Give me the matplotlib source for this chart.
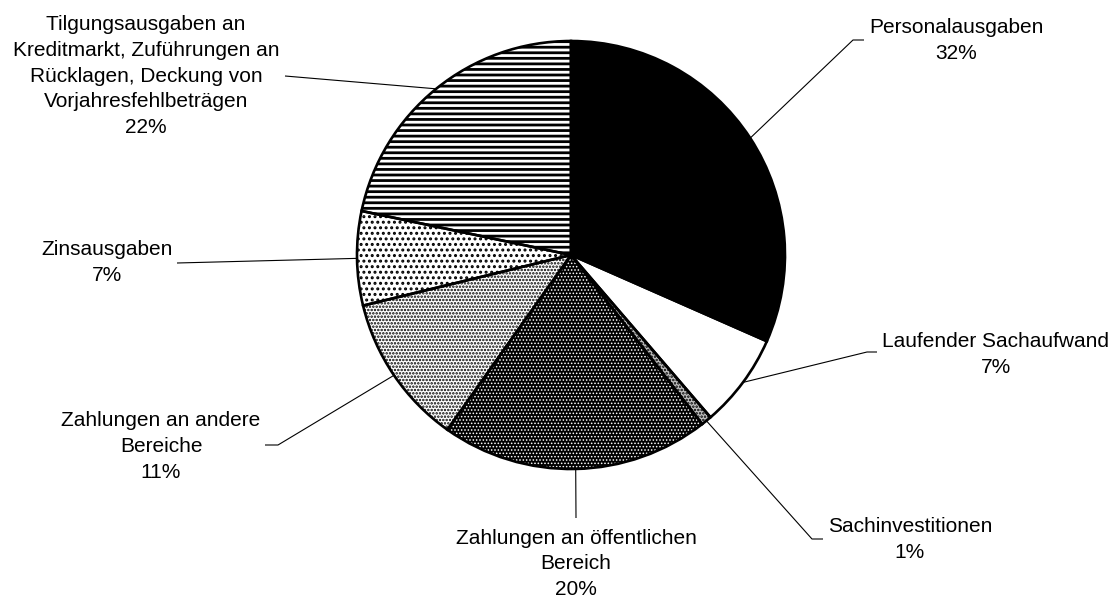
#!/usr/bin/env python3
"""Ausgabenstruktur als Kreisdiagramm (schwarz/weiss mit Schraffuren)"""

import matplotlib
matplotlib.use('Agg')
import matplotlib.pyplot as plt
import numpy as np

# data
categories = [
    'Personalausgaben',
    'Laufender Sachaufwand',
    'Sachinvestitionen',
    'Zahlungen an öffentlichen\nBereich',
    'Zahlungen an andere\nBereiche',
    'Zinsausgaben',
    'Tilgungsausgaben an\nKreditmarkt, Zuführungen an\nRücklagen, Deckung von\nVorjahresfehlbeträgen',
]
shares = [31.6, 7.1, 0.8, 20.3, 11.4, 7.1, 21.7]

# styles per slice: face, hatch, hatch colour, hatch line width
faces = ['black', 'white', '#c0c0c0', 'black', 'white', 'white', 'white']
hatches = [None, None, '.....', '.....', '.....', '...', '---']
hatch_cols = ['black', 'black', 'black', 'white', 'black', 'black', 'black']
hatch_lws = [1.0, 1.0, 1.2, 0.7, 1.2, 1.4, 2.0]

# layout in pixels (y from top): label last-baseline pos, leader elbow/end
W, H = 1117, 599
CX, CY, R = 571, 255, 214
label_pos = [(956, 59), (996, 373), (910, 558), (576, 595),
             (161, 478), (107, 281), (146, 133)]
leader_pts = [
    [(853, 40), (864, 40)],
    [(867, 352), (877, 352)],
    [(812, 539), (823, 539)],
    [(576, 518)],
    [(278, 445), (265, 445)],
    [(177, 263)],
    [(285, 76)],
]

plt.rcParams['font.family'] = ['Liberation Sans', 'DejaVu Sans']
plt.rcParams['hatch.linewidth'] = 1.4

fig = plt.figure(figsize=(W / 100, H / 100), dpi=100)
ax = fig.add_axes([0, 0, 1, 1])

# fills + hatches
wedges, _ = ax.pie(shares, startangle=90, counterclock=False,
                   center=(CX, H - CY), radius=R, colors=faces,
                   wedgeprops=dict(linewidth=0))
for w, h, hc, hl in zip(wedges, hatches, hatch_cols, hatch_lws):
  w.set_edgecolor(hc)
  w.set_linewidth(0)
  if h:
    w.set_hatch(h)
    if hasattr(w, 'set_hatch_linewidth'):
      w.set_hatch_linewidth(hl)

# outlines on top
ax.pie(shares, startangle=90, counterclock=False, center=(CX, H - CY),
       radius=R, wedgeprops=dict(fill=False, edgecolor='black',
                                 linewidth=1.9))

ax.set_xlim(0, W)
ax.set_ylim(0, H)
ax.set_aspect('auto')
ax.axis('off')

for w, cat, share, (tx, ty), pts in zip(wedges, categories, shares,
                                         label_pos, leader_pts):
  mid = np.deg2rad((w.theta1 + w.theta2) / 2)
  xs = [CX + R * np.cos(mid)] + [p[0] for p in pts]
  ys = [H - CY + R * np.sin(mid)] + [H - p[1] for p in pts]
  ax.plot(xs, ys, color='black', lw=0.8, solid_capstyle='butt')
  ax.text(tx, H - ty, '%s\n%.0f%%' % (cat, share), ha='center',
          va='baseline', multialignment='center', fontsize=15,
          linespacing=1.45)

fig.savefig('out.png', dpi=100)
